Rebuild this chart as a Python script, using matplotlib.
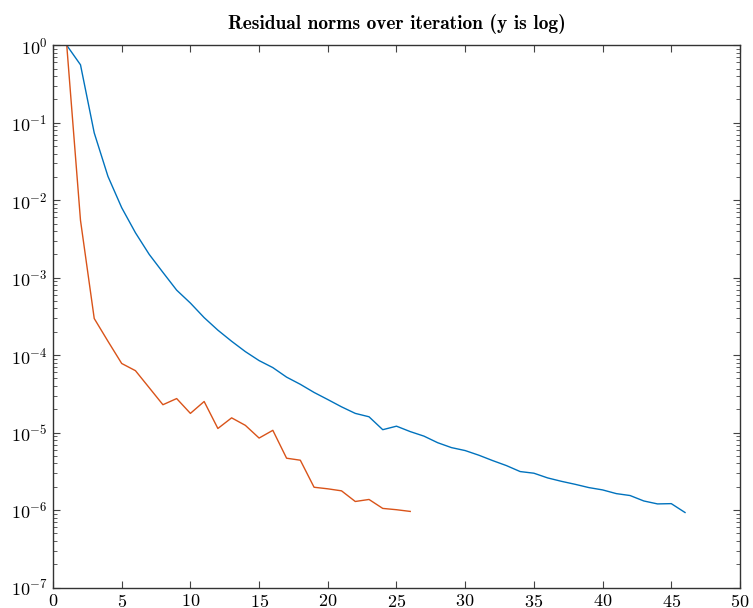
import matplotlib
matplotlib.use('Agg')
import matplotlib.pyplot as plt
from matplotlib.ticker import LogLocator, NullFormatter

plt.rcParams['mathtext.fontset'] = 'cm'
plt.rcParams['font.family'] = 'cmr10'
plt.rcParams['axes.formatter.use_mathtext'] = True

# residual norms
iters_a = list(range(1, 47))
res_a = [1.0, 0.56, 0.074, 0.0203, 0.0080, 0.0038, 0.0020, 0.00117, 0.00069, 0.00047,
         3.05e-4, 2.1e-4, 1.51e-4, 1.11e-4, 8.5e-5, 6.9e-5, 5.2e-5, 4.2e-5, 3.3e-5, 2.67e-5,
         2.15e-5, 1.77e-5, 1.6e-5, 1.09e-5, 1.21e-5, 1.03e-5, 9.0e-6, 7.4e-6, 6.4e-6, 5.86e-6,
         5.1e-6, 4.35e-6, 3.75e-6, 3.14e-6, 2.99e-6, 2.6e-6, 2.35e-6, 2.15e-6, 1.95e-6, 1.82e-6,
         1.63e-6, 1.54e-6, 1.31e-6, 1.2e-6, 1.21e-6, 9.3e-7]

iters_b = list(range(1, 27))
res_b = [1.0, 0.0055, 2.97e-4, 1.51e-4, 7.8e-5, 6.3e-5, 3.8e-5, 2.29e-5, 2.75e-5, 1.77e-5,
         2.52e-5, 1.13e-5, 1.55e-5, 1.24e-5, 8.5e-6, 1.07e-5, 4.67e-6, 4.4e-6, 1.97e-6, 1.88e-6,
         1.77e-6, 1.29e-6, 1.37e-6, 1.05e-6, 1.01e-6, 9.6e-7]

fig = plt.figure(figsize=(7.53, 6.08), dpi=100)
ax = fig.add_axes([0.0704, 0.0337, 0.9123, 0.8918])

ax.plot(iters_a, res_a, color='#0072BD', linewidth=1.0)
ax.plot(iters_b, res_b, color='#D95319', linewidth=1.0)

ax.set_yscale('log')
ax.set_xlim(0, 50)
ax.set_ylim(1e-7, 1e0)
ax.set_xticks(range(0, 51, 5))
ax.yaxis.set_major_locator(LogLocator(base=10, numticks=10))
ax.yaxis.set_minor_locator(LogLocator(base=10, subs=range(2, 10), numticks=20))
ax.yaxis.set_minor_formatter(NullFormatter())

ax.tick_params(which='both', direction='in', top=True, right=True, labelsize=13, color='#444444')
ax.tick_params(which='major', length=5)
ax.tick_params(which='minor', length=3)
ax.tick_params(axis='x', pad=4)
ax.tick_params(axis='y', pad=4)
for s in ax.spines.values():
    s.set_linewidth(1.0)
    s.set_color('#333333')

ax.set_title('Residual norms over iteration (y is log)', fontsize=14,
             fontfamily='cmb10', pad=12)

fig.savefig('out.png', dpi=100)
